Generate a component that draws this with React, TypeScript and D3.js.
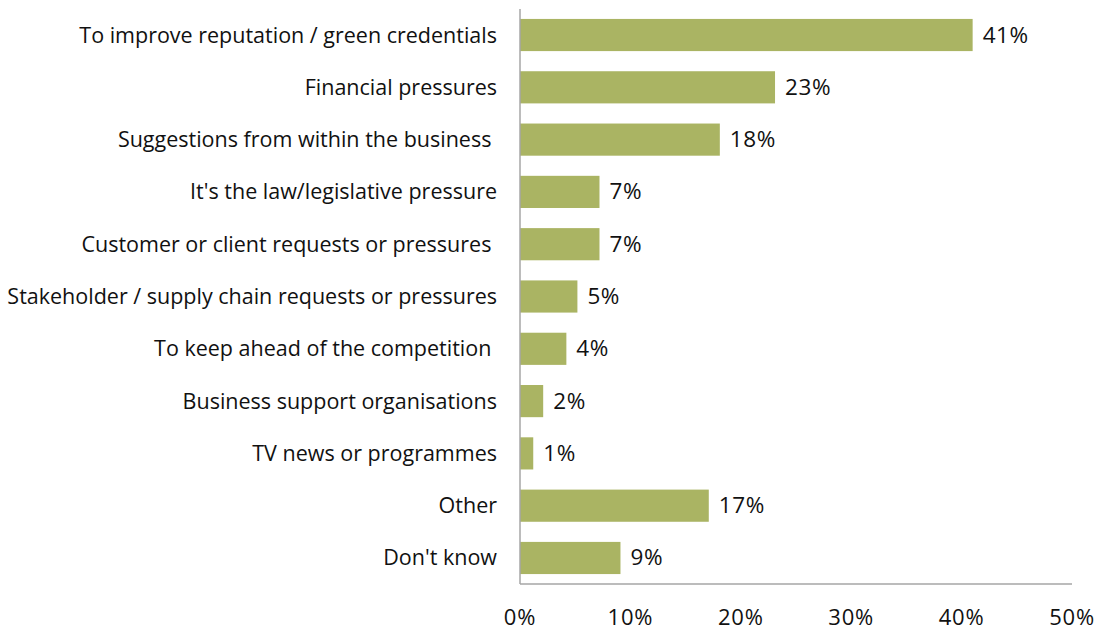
import { useEffect, useRef } from "react";
import * as d3 from "d3";

const categories = [
  "To improve reputation / green credentials",
  "Financial pressures",
  "Suggestions from within the business ",
  "It's the law/legislative pressure",
  "Customer or client requests or pressures ",
  "Stakeholder / supply chain requests or pressures",
  "To keep ahead of the competition ",
  "Business support organisations",
  "TV news or programmes",
  "Other",
  "Don't know",
];
const values = [41, 23.1, 18.1, 7.2, 7.2, 5.2, 4.2, 2.1, 1.2, 17.1, 9.1];
const xTicks = [0, 10, 20, 30, 40, 50];

const WIDTH = 1102;
const HEIGHT = 632;
const FONT = "'Open Sans', sans-serif";

export default function App() {
  const svgRef = useRef<SVGSVGElement | null>(null);

  useEffect(() => {
    const svg = d3.select(svgRef.current);
    svg.selectAll("*").remove();

    const x = d3.scaleLinear().domain([0, 50]).range([520, 1072]);
    const y = d3
      .scaleBand<string>()
      .domain(categories)
      .range([9, 584])
      .paddingInner(0.385)
      .paddingOuter(0.19);

    // bars
    svg
      .append("g")
      .selectAll("rect")
      .data(categories)
      .enter()
      .append("rect")
      .attr("x", x(0))
      .attr("y", (d) => y(d) ?? 0)
      .attr("width", (_d, i) => x(values[i]) - x(0))
      .attr("height", y.bandwidth())
      .attr("fill", "#aab463");

    // value labels
    svg
      .append("g")
      .selectAll("text")
      .data(categories)
      .enter()
      .append("text")
      .attr("x", (_d, i) => x(values[i]) + 10)
      .attr("y", (d) => (y(d) ?? 0) + y.bandwidth() / 2 + 7.5)
      .attr("font-size", 22.5)
      .attr("letter-spacing", 0.6)
      .attr("font-family", FONT)
      .attr("fill", "#111")
      .text((_d, i) => `${Math.round(values[i])}%`);

    // category labels
    svg
      .append("g")
      .selectAll("text")
      .data(categories)
      .enter()
      .append("text")
      .attr("x", 497)
      .attr("y", (d) => (y(d) ?? 0) + y.bandwidth() / 2 + 7.5)
      .attr("text-anchor", "end")
      .attr("font-size", 21.5)
      .attr("font-family", FONT)
      .attr("fill", "#111")
      .style("white-space", "pre")
      .text((d) => d);

    // axes lines
    svg
      .append("line")
      .attr("x1", x(0))
      .attr("x2", x(0))
      .attr("y1", 9)
      .attr("y2", 584)
      .attr("stroke", "#a6a6a6")
      .attr("stroke-width", 1.5);
    svg
      .append("line")
      .attr("x1", x(0))
      .attr("x2", x(50))
      .attr("y1", 584)
      .attr("y2", 584)
      .attr("stroke", "#a6a6a6")
      .attr("stroke-width", 1.5);

    // tick labels
    svg
      .append("g")
      .selectAll("text")
      .data(xTicks)
      .enter()
      .append("text")
      .attr("x", (d) => x(d))
      .attr("y", 625)
      .attr("text-anchor", "middle")
      .attr("font-size", 22)
      .attr("letter-spacing", 0.8)
      .attr("font-family", FONT)
      .attr("fill", "#111")
      .text((d) => `${d}%`);
  }, []);

  return (
    <svg
      ref={svgRef}
      width={WIDTH}
      height={HEIGHT}
      style={{ position: "absolute", left: 0, top: 0, background: "#fff" }}
    />
  );
}
